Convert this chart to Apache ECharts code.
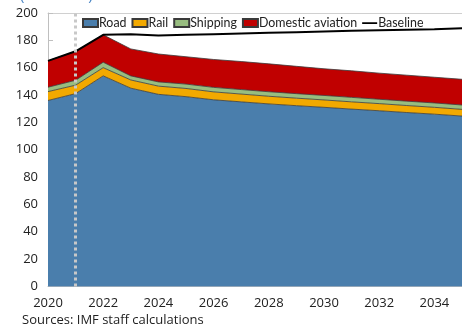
<!DOCTYPE html>
<html>
<head>
<meta charset="utf-8">
<script src="https://cdn.jsdelivr.net/npm/echarts@6/dist/echarts.min.js"></script>
<style>
  html, body { margin: 0; padding: 0; background: #fff; }
  #chart { width: 462px; height: 325px; }
</style>
</head>
<body>
<div id="chart"></div>
<script>
// Transport emissions by mode, MT CO2e
var years = ['2020','2021','2022','2023','2024','2025','2026','2027','2028','2029','2030','2031','2032','2033','2034','2035'];
var road      = [136, 141, 154, 145, 140.5, 138.8, 136.5, 135, 133.5, 132.2, 131, 129.7, 128.5, 127.2, 126, 124.6];
var rail      = [6.5, 6.2, 6, 6, 6, 6, 5.8, 5.7, 5.6, 5.5, 5.4, 5.3, 5.2, 5.1, 5, 4.9];
var shipping  = [3.2, 3.6, 4, 3, 3.1, 3.2, 3.3, 3.3, 3.3, 3.3, 3.3, 3.3, 3.2, 3.2, 3.2, 3.2];
var aviation  = [19.3, 21.2, 20, 19.7, 20.4, 20, 20.4, 20.5, 20.4, 20, 19.5, 19.4, 19.1, 19, 18.8, 18.8];
var baseline  = [165, 172, 184, 184.5, 183.5, 184, 184.5, 185, 185.5, 186, 186.5, 187, 187.4, 187.8, 188.2, 188.8];
var yTicks    = { min: 0, max: 200, step: 20 };
var markYear  = '2021';

var FONT = 'Open Sans';
var LEGEND_FONT = 'Lato';
// thin horizontal bar inside a full 15x8 box, used as the line legend icon
var LINE_ICON = 'path://M0,0h0.1v0.1h-0.1z M0,3.2h15v1.7h-15z M14.9,7.9h0.1v0.1h-0.1z';

function areaSeries(name, data, color) {
  return {
    name: name,
    type: 'line',
    stack: 'total',
    data: data,
    symbol: 'none',
    lineStyle: { color: '#3a3a3a', width: 0.8 },
    areaStyle: { color: color, opacity: 1 },
    itemStyle: { color: color, borderColor: '#3a3a3a', borderWidth: 0.6 },
    emphasis: { disabled: true },
    z: 2
  };
}

var chart = echarts.init(document.getElementById('chart'), null, { renderer: 'canvas' });

chart.setOption({
  animation: false,
  backgroundColor: '#fff',
  textStyle: { fontFamily: FONT },
  grid: { left: 48, top: 13, right: -4, bottom: 38.6, containLabel: false },
  legend: {
    left: 82,
    top: 17,
    itemWidth: 15,
    itemHeight: 8,
    itemGap: 5,
    padding: 0,
    textStyle: { fontFamily: LEGEND_FONT, fontSize: 12.4, color: '#222', padding: [0, 0, 0, -4] },
    data: [
      { name: 'Road', icon: 'rect' },
      { name: 'Rail', icon: 'rect' },
      { name: 'Shipping', icon: 'rect' },
      { name: 'Domestic aviation', icon: 'rect' },
      { name: 'Baseline', icon: LINE_ICON, itemStyle: { color: '#000', borderWidth: 0 } }
    ]
  },
  graphic: [
    {
      type: 'text', left: 20, top: -12,
      style: { text: '(MT CO2e)', fill: '#4a86c5', font: '15px "' + FONT + '"' }
    },
    {
      type: 'text', left: 22, top: 314,
      style: { text: 'Sources: IMF staff calculations', fill: '#222', font: '13px "' + FONT + '"' }
    }
  ],
  xAxis: [
    {
      type: 'category',
      data: years,
      boundaryGap: false,
      axisLine: { lineStyle: { color: '#bfbfbf', width: 1 } },
      axisTick: { inside: true, length: 5, interval: 0, lineStyle: { color: '#bfbfbf' } },
      axisLabel: {
        interval: 1, margin: 10,
        fontFamily: FONT, fontSize: 13, color: '#222'
      },
      splitLine: { show: false }
    },
    {
      type: 'category',
      data: years,
      position: 'top',
      boundaryGap: false,
      axisLine: { lineStyle: { color: '#d0d0d0', width: 1 } },
      axisTick: { show: false },
      axisLabel: { show: false }
    }
  ],
  yAxis: {
    type: 'value',
    min: yTicks.min,
    max: yTicks.max,
    interval: yTicks.step,
    axisLine: { show: true, lineStyle: { color: '#bfbfbf' } },
    axisTick: { show: true, inside: true, length: 5, lineStyle: { color: '#bfbfbf' } },
    axisLabel: { margin: 10, fontFamily: FONT, fontSize: 13, color: '#222' },
    splitLine: { show: false }
  },
  series: [
    areaSeries('Road', road, '#4a7eac'),
    areaSeries('Rail', rail, '#f2a900'),
    areaSeries('Shipping', shipping, '#98bd80'),
    areaSeries('Domestic aviation', aviation, '#c00000'),
    {
      name: 'Baseline',
      type: 'line',
      data: baseline,
      symbol: 'none',
      lineStyle: { color: '#000', width: 2 },
      itemStyle: { color: '#000' },
      emphasis: { disabled: true },
      z: 4,
      markLine: {
        silent: true,
        symbol: 'none',
        label: { show: false },
        lineStyle: { color: '#c8c8c8', type: [3, 3], width: 3 },
        data: [{ xAxis: markYear }]
      }
    }
  ]
});
</script>
</body>
</html>
